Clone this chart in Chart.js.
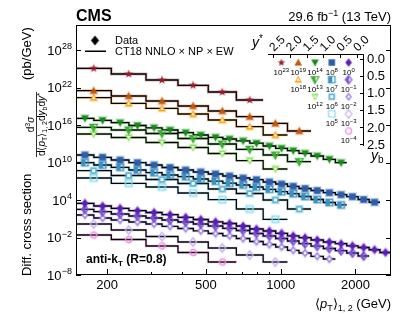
<!DOCTYPE html>
<html>
<head>
<meta charset="utf-8">
<script src="https://cdn.jsdelivr.net/npm/chart.js@4.4.1/dist/chart.umd.min.js"></script>
<style>
  html, body { margin: 0; padding: 0; background: #fff; }
  #wrap { width: 407px; height: 315px; }
</style>
</head>
<body>
<div id="wrap"><canvas id="chart" width="407" height="315"></canvas></div>
<script>
// <pT>1,2 bin edges (GeV)
const fineEdges = [150, 177, 208, 245, 287, 333, 386, 445, 511, 585, 663, 751, 850, 955, 1065, 1185, 1325, 1485, 1660, 1845, 2050, 2270, 2510, 2780];
const coarseEdges = [150, 208, 287, 386, 511, 663, 850, 1065, 1325];

// cross sections in pb/GeV, before the scale factors (y* bin, yb bin)
const ystar20_yb00 = [117, 14.5, 1.58, 0.224, 0.019, 0.001];
const ystar15_yb00 = [309, 43.6, 6.9, 1.1, 0.174, 0.0214, 0.00186, 0.00011];
const ystar15_yb05 = [234, 29.5, 4.7, 0.575, 0.063, 0.0054, 0.00025];
const ystar10_yb00 = [1180, 565, 233, 83, 35.6, 15.8, 5.86, 2.51, 1.08, 0.575, 0.286, 0.122, 0.0437, 0.0187, 0.0077, 0.00296, 0.0011, 0.000325, 0.000093];
const ystar10_yb05 = [427, 158, 43.6, 6.9, 0.91, 0.129, 0.0158, 0.00135];
const ystar10_yb10 = [363, 100, 15.8, 2.5, 0.275, 0.0195, 0.00091];
const ystar05_yb00 = [1585, 679, 251, 93, 39.8, 15.8, 6.3, 3.02, 1.45, 0.69, 0.331, 0.177, 0.0759, 0.0363, 0.0156, 0.0069, 0.0033, 0.00147, 0.0007, 0.00034, 0.00012, 0.000044];
const ystar05_yb05 = [929, 398, 171, 63, 23.3, 10, 5.35, 2.29, 1.02, 0.488, 0.251, 0.12, 0.0515, 0.0213, 0.0102, 0.00363, 0.0012, 0.0004, 0.00016];
const ystar05_yb10 = [488, 83, 19, 4.4, 0.575, 0.11, 0.01, 0.00036];
const ystar05_yb15 = [331, 47, 12, 1.32, 0.112, 0.0036, 0.000082];
const ystar00_yb00 = [2965, 1096, 470, 194, 100, 44.5, 17.1, 7.6, 3.25, 1.74, 0.69, 0.229, 0.11, 0.047, 0.0187, 0.0093, 0.004, 0.0019, 0.00102, 0.00047, 0.00025, 0.00011, 0.00004];
const ystar00_yb05 = [3251, 1343, 575, 275, 132, 63, 30.2, 14.5, 6.9, 2.96, 1.32, 0.437, 0.174, 0.069, 0.0275, 0.0102, 0.00406, 0.00174, 0.00077, 0.00033, 0.00011];
const ystar00_yb10 = [3981, 1318, 631, 302, 145, 62, 27.5, 11.8, 4.37, 1.87, 0.69, 0.229, 0.0759, 0.0302, 0.00895, 0.0033, 0.00098, 0.00036];
const ystar00_yb15 = [1445, 158, 14.5, 1.9, 0.21, 0.0158, 0.0012];
const ystar00_yb20 = [251, 47.9, 4.37, 0.4, 0.012];

// axis ticks
const yTickExps = [-8, -2, 4, 10, 16, 22, 28];
const xMajor = [200, 500, 1000, 2000];
const xMinor = [300, 400, 600, 700, 800, 900];
const ystarTicks = ['2.5', '2.0', '1.5', '1.0', '0.5', '0.0'];
const ybTicks = ['0.0', '0.5', '1.0', '1.5', '2.0', '2.5'];

const FONT = '"Liberation Sans", Arial, Helvetica, sans-serif';

const seriesDefs = [
  {vals: ystar20_yb00, edges: coarseEdges, exp: 23, shape: 'star', fill: 'full', color: '#9b1b2a', size: 7, row: 0, col: 0},
  {vals: ystar15_yb00, edges: coarseEdges, exp: 19, shape: 'triUp', fill: 'full', color: '#c4570a', size: 7.5, row: 0, col: 1},
  {vals: ystar15_yb05, edges: coarseEdges, exp: 18, shape: 'triUp', fill: 'ring', color: '#f4a30c', size: 7.5, row: 1, col: 1},
  {vals: ystar10_yb00, edges: fineEdges, exp: 14, shape: 'triDown', fill: 'full', color: '#168a16', size: 7.5, row: 0, col: 2},
  {vals: ystar10_yb05, edges: coarseEdges, exp: 13, shape: 'triDown', fill: 'half', color: '#3cb032', size: 7.5, row: 1, col: 2},
  {vals: ystar10_yb10, edges: coarseEdges, exp: 12, shape: 'triDown', fill: 'ring', color: '#8ee35c', size: 7.5, row: 2, col: 2},
  {vals: ystar05_yb00, edges: fineEdges, exp: 8, shape: 'square', fill: 'full', color: '#2c5ea8', size: 6.5, row: 0, col: 3},
  {vals: ystar05_yb05, edges: fineEdges, exp: 7, shape: 'square', fill: 'half', color: '#3a92c0', size: 6.5, row: 1, col: 3},
  {vals: ystar05_yb10, edges: coarseEdges, exp: 6, shape: 'square', fill: 'ring', color: '#5cb6d6', size: 6.5, row: 2, col: 3},
  {vals: ystar05_yb15, edges: coarseEdges, exp: 5, shape: 'square', fill: 'open', color: '#7fdcf4', size: 6.5, row: 3, col: 3},
  {vals: ystar00_yb00, edges: fineEdges, exp: 0, shape: 'diamond', fill: 'full', color: '#5b1fb5', size: 7, row: 0, col: 4},
  {vals: ystar00_yb05, edges: fineEdges, exp: -1, shape: 'diamond', fill: 'half', color: '#7b55d2', size: 7, row: 1, col: 4},
  {vals: ystar00_yb10, edges: fineEdges, exp: -2, shape: 'diamond', fill: 'ring', color: '#9c84e0', size: 7, row: 2, col: 4},
  {vals: ystar00_yb15, edges: coarseEdges, exp: -3, shape: 'diamond', fill: 'open', color: '#c7b2ef', size: 7, row: 3, col: 4},
  {vals: ystar00_yb20, edges: coarseEdges, exp: -4, shape: 'circle', fill: 'open', color: '#f08de2', size: 6.5, row: 4, col: 4}
];

function shapePath(g, shape, cx, cy, r) {
  g.beginPath();
  if (shape === 'square') {
    g.rect(cx - r, cy - r, 2 * r, 2 * r);
  } else if (shape === 'diamond') {
    g.moveTo(cx, cy - 1.2 * r); g.lineTo(cx + 0.95 * r, cy);
    g.lineTo(cx, cy + 1.2 * r); g.lineTo(cx - 0.95 * r, cy);
    g.closePath();
  } else if (shape === 'triUp') {
    g.moveTo(cx, cy - 1.05 * r); g.lineTo(cx + r, cy + 0.8 * r); g.lineTo(cx - r, cy + 0.8 * r);
    g.closePath();
  } else if (shape === 'triDown') {
    g.moveTo(cx, cy + 1.05 * r); g.lineTo(cx + r, cy - 0.8 * r); g.lineTo(cx - r, cy - 0.8 * r);
    g.closePath();
  } else if (shape === 'circle') {
    g.arc(cx, cy, r * 0.95, 0, Math.PI * 2);
  } else if (shape === 'star') {
    for (let i = 0; i < 10; i++) {
      const rr = i % 2 ? r * 0.48 : r * 1.15;
      const a = -Math.PI / 2 + i * Math.PI / 5;
      const px = cx + rr * Math.cos(a), py = cy + rr * Math.sin(a);
      if (i) g.lineTo(px, py); else g.moveTo(px, py);
    }
    g.closePath();
  }
}

function makeMarker(s, halo) {
  const W = Math.ceil(s.size * 2) + 2;
  const c = document.createElement('canvas');
  c.width = W; c.height = W;
  const g = c.getContext('2d');
  const cx = W / 2, cy = W / 2, r = s.size / 2;
  if (halo) {
    g.globalAlpha = 0.22;
    g.fillStyle = s.color;
    shapePath(g, s.shape, cx, cy, r * 1.4);
    g.fill();
    g.globalAlpha = 1;
  }
  shapePath(g, s.shape, cx, cy, r);
  if (s.fill === 'full') {
    g.fillStyle = s.color; g.fill();
  } else if (s.fill === 'open') {
    g.lineWidth = 1.2; g.strokeStyle = s.color; g.stroke();
  } else if (s.fill === 'half') {
    g.save(); g.clip();
    g.fillStyle = s.color;
    g.fillRect(cx - r * 1.5, cy - r * 1.5, r * 1.5 + 0.5, r * 3);
    g.restore();
    shapePath(g, s.shape, cx, cy, r);
    g.lineWidth = 1.2; g.strokeStyle = s.color; g.stroke();
  } else if (s.fill === 'ring') {
    g.fillStyle = s.color; g.fill();
    shapePath(g, s.shape, cx, cy, r * 0.45);
    g.fillStyle = '#fff'; g.fill();
  }
  return c;
}

function withAlpha(hex, a) {
  const n = parseInt(hex.slice(1), 16);
  return `rgba(${n >> 16},${(n >> 8) & 255},${n & 255},${a})`;
}

// text made of pieces with different size / style / vertical shift
function rich(ctx, parts, x, y, align) {
  let w = 0;
  const ws = parts.map(p => {
    ctx.font = `${p.i ? 'italic ' : ''}${p.b ? 'bold ' : ''}${p.s}px ${FONT}`;
    const m = ctx.measureText(p.t).width;
    w += m;
    return m;
  });
  let cx = align === 'right' ? x - w : align === 'center' ? x - w / 2 : x;
  parts.forEach((p, k) => {
    ctx.font = `${p.i ? 'italic ' : ''}${p.b ? 'bold ' : ''}${p.s}px ${FONT}`;
    ctx.fillText(p.t, cx, y + (p.dy || 0));
    cx += ws[k];
  });
  return w;
}

function expText(e) {
  return e < 0 ? '\u2212' + (-e) : String(e);
}

const datasets = [];
seriesDefs.forEach(s => {
  const k = Math.pow(10, s.exp);
  const n = s.vals.length;
  const e = s.edges.slice(0, n + 1);
  const step = e.map((x, i) => ({x, y: s.vals[Math.min(i, n - 1)] * k}));
  const pts = s.vals.map((v, i) => ({x: Math.sqrt(e[i] * e[i + 1]), y: v * k}));
  s.icon = makeMarker(s, false);
  datasets.push({
    data: step, showLine: true, stepped: 'before', pointRadius: 0,
    borderColor: withAlpha(s.color, 0.35), borderWidth: 2.8, order: 3
  });
  datasets.push({
    data: step, showLine: true, stepped: 'before', pointRadius: 0,
    borderColor: '#000', borderWidth: 1.3, order: 2
  });
  datasets.push({
    data: pts, showLine: false, pointRadius: 3,
    pointStyle: makeMarker(s, true), order: 1
  });
});

const dataDiamond = makeMarker({shape: 'diamond', fill: 'full', color: '#000', size: 8.5}, false);

const decor = {
  id: 'decor',
  afterDraw(chart) {
    const {ctx, chartArea: a, scales: {x, y}} = chart;
    ctx.save();
    ctx.fillStyle = '#000';
    ctx.strokeStyle = '#000';
    ctx.textAlign = 'left';
    ctx.textBaseline = 'alphabetic';

    // frame and ticks
    ctx.lineWidth = 1;
    ctx.strokeRect(a.left + 0.5, a.top + 0.5, a.right - a.left - 1, a.bottom - a.top - 1);
    ctx.beginPath();
    yTickExps.forEach(e => {
      const py = Math.round(y.getPixelForValue(Math.pow(10, e))) + 0.5;
      ctx.moveTo(a.left, py); ctx.lineTo(a.left + 5, py);
      ctx.moveTo(a.right, py); ctx.lineTo(a.right - 5, py);
    });
    xMajor.forEach(v => {
      const px = Math.round(x.getPixelForValue(v)) + 0.5;
      ctx.moveTo(px, a.bottom); ctx.lineTo(px, a.bottom - 6);
    });
    xMinor.forEach(v => {
      const px = Math.round(x.getPixelForValue(v)) + 0.5;
      ctx.moveTo(px, a.bottom); ctx.lineTo(px, a.bottom - 3);
    });
    ctx.stroke();

    // tick labels
    yTickExps.forEach(e => {
      const py = y.getPixelForValue(Math.pow(10, e));
      ctx.font = `9px ${FONT}`;
      const et = expText(e);
      const we = ctx.measureText(et).width;
      ctx.fillText(et, 72 - we, py - 1);
      ctx.font = `13px ${FONT}`;
      const wb = ctx.measureText('10').width;
      ctx.fillText('10', 72 - we - wb - 0.3, py + 4.7);
    });
    ctx.textAlign = 'center';
    ctx.font = `13px ${FONT}`;
    xMajor.forEach(v => ctx.fillText(String(v), x.getPixelForValue(v), 289));
    ctx.textAlign = 'left';

    // axis titles
    rich(ctx, [
      {t: '\u27E8', s: 13}, {t: 'p', s: 13, i: true}, {t: 'T', s: 9, dy: 3},
      {t: '\u27E9', s: 13}, {t: '1, 2', s: 9, dy: 3}, {t: ' (GeV)', s: 13}
    ], a.right, 308, 'right');

    ctx.save();
    ctx.rotate(-Math.PI / 2);
    rich(ctx, [{t: 'Diff. cross section', s: 13}], -276, 31, 'left');
    rich(ctx, [{t: '(pb/GeV)', s: 13}], -80, 31, 'left');
    const den = [
      {t: 'd\u27E8', s: 10}, {t: 'p', s: 10, i: true}, {t: 'T', s: 7, dy: 2},
      {t: '\u27E9', s: 10}, {t: '1, 2', s: 7, dy: 2}, {t: 'd', s: 10}, {t: 'y', s: 10, i: true},
      {t: 'b', s: 7, dy: 2}, {t: 'd', s: 10}, {t: 'y', s: 10, i: true}, {t: '*', s: 8, dy: -3.5}
    ];
    const wd = rich(ctx, den, -124.5, 45, 'center');
    rich(ctx, [{t: 'd', s: 10}, {t: '3', s: 7, dy: -4}, {t: '\u03C3', s: 10, i: true}], -124.5, 34, 'center');
    ctx.fillRect(-124.5 - wd / 2 - 1, 36, wd + 2, 0.8);
    ctx.restore();

    // header
    rich(ctx, [{t: 'CMS', s: 16, b: true}], a.left, 21, 'left');
    rich(ctx, [{t: '29.6 fb', s: 13}, {t: '\u22121', s: 9, dy: -5}, {t: ' (13 TeV)', s: 13}], a.right, 20.5, 'right');

    // legend
    ctx.drawImage(dataDiamond, 95 - dataDiamond.width / 2, 40.5 - dataDiamond.height / 2);
    ctx.fillRect(85, 50.5, 21, 1.5);
    rich(ctx, [{t: 'Data', s: 11}], 115, 44, 'left');
    rich(ctx, [{t: 'CT18 NNLO \u00D7 NP \u00D7 EW', s: 11}], 115, 55, 'left');

    rich(ctx, [{t: 'anti-k', s: 12, b: true}, {t: 'T', s: 8, b: true, dy: 2.5}, {t: ' (R=0.8)', s: 12, b: true}], 86, 263, 'left');

    // y* / yb inset
    const colX0 = 273, colW = 16.8, rowY0 = 58.5, rowH = 17.1;
    ctx.lineWidth = 1;
    ctx.beginPath();
    ctx.moveTo(268, 54.5); ctx.lineTo(363.5, 54.5);
    ctx.moveTo(363.5, 54.5); ctx.lineTo(363.5, 146);
    ystarTicks.forEach((t, k) => {
      const px = Math.round(colX0 + colW * k) + 0.5;
      ctx.moveTo(px, 54.5); ctx.lineTo(px, 58);
    });
    ybTicks.forEach((t, k) => {
      const py = Math.round(rowY0 + rowH * k) + 0.5;
      ctx.moveTo(363.5, py); ctx.lineTo(360, py);
    });
    ctx.stroke();
    ybTicks.forEach((t, k) => {
      const py = rowY0 + rowH * k;
      rich(ctx, [{t, s: 13}], 367, py + 4.6, 'left');
    });
    ystarTicks.forEach((t, k) => {
      const px = colX0 + colW * k;
      ctx.save();
      ctx.translate(px + 1, 52);
      ctx.rotate(-Math.PI / 4);
      rich(ctx, [{t, s: 12}], 0, 0, 'left');
      ctx.restore();
    });
    rich(ctx, [{t: 'y', s: 14, i: true}, {t: '*', s: 10, dy: -5}], 252, 47, 'left');
    rich(ctx, [{t: 'y', s: 14, i: true}, {t: 'b', s: 10, dy: 3}], 371, 160, 'left');

    seriesDefs.forEach(s => {
      const cx = colX0 + colW * (s.col + 0.5);
      const cy = rowY0 + rowH * (s.row + 0.5);
      ctx.drawImage(s.icon, cx - s.icon.width / 2, cy - 4.5 - s.icon.height / 2);
      rich(ctx, [{t: '10', s: 8}, {t: expText(s.exp), s: 6, dy: -3}], cx, cy + 7.8, 'center');
    });

    ctx.restore();
  }
};

Chart.defaults.font.family = FONT;

new Chart(document.getElementById('chart'), {
  type: 'scatter',
  data: {datasets},
  options: {
    responsive: false,
    animation: false,
    devicePixelRatio: 1,
    layout: {padding: {top: 25, right: 16, left: 0, bottom: 0}},
    plugins: {legend: {display: false}, tooltip: {enabled: false}},
    scales: {
      x: {
        type: 'logarithmic', min: 150, max: 2780,
        grid: {display: false}, border: {display: false}, ticks: {display: false},
        afterFit: (s) => { s.height = 40; }
      },
      y: {
        type: 'logarithmic', min: 1e-8, max: 1e32,
        grid: {display: false}, border: {display: false}, ticks: {display: false},
        afterFit: (s) => { s.width = 76; }
      }
    }
  },
  plugins: [decor]
});
</script>
</body>
</html>
